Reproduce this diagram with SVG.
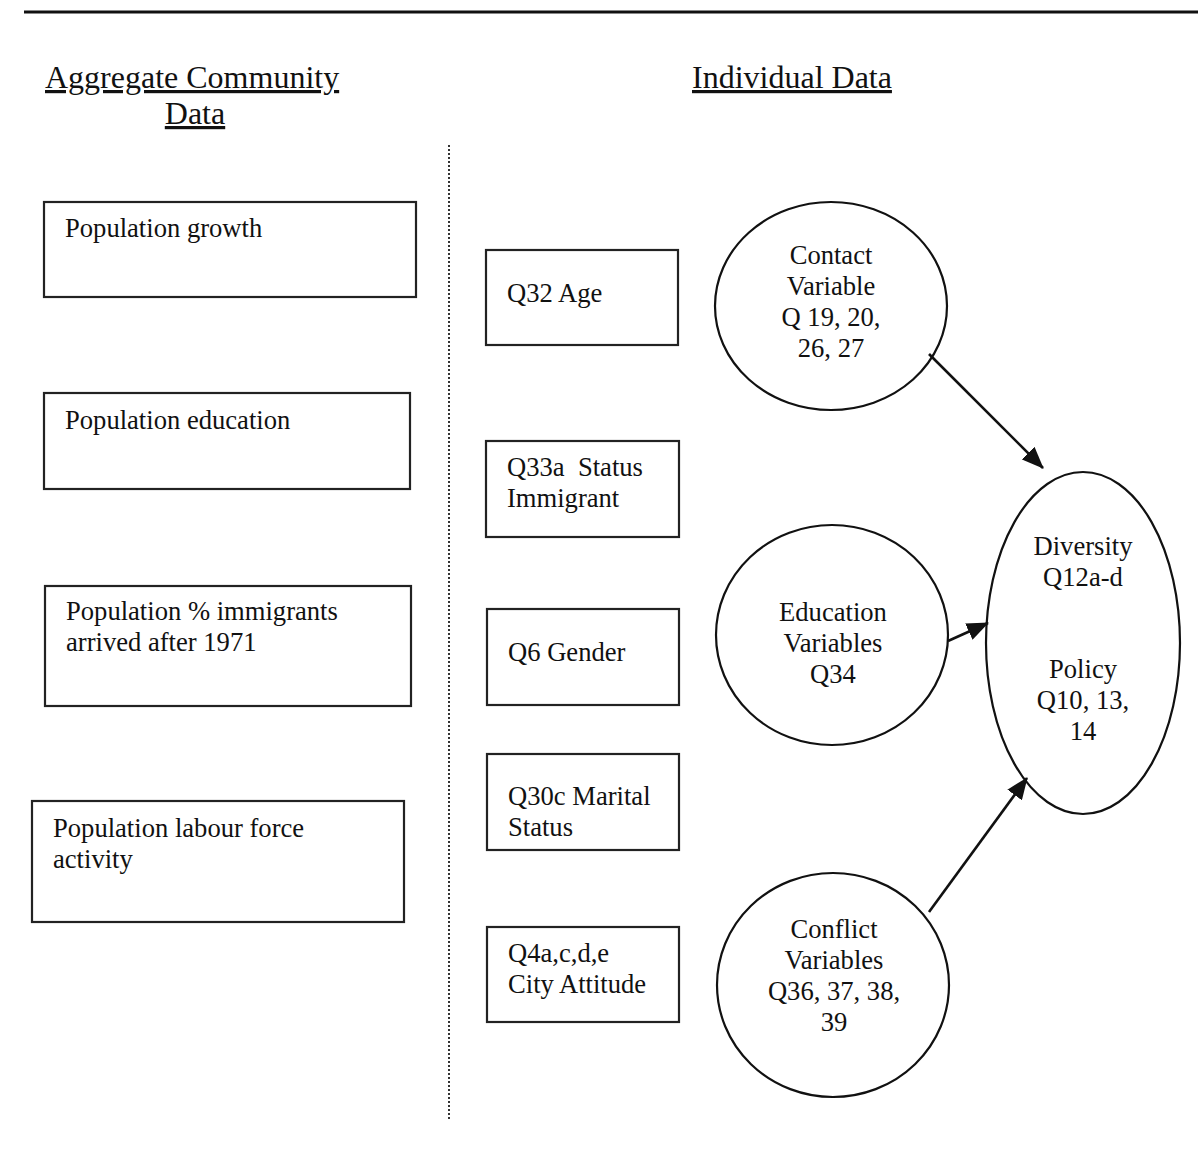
<svg xmlns="http://www.w3.org/2000/svg" width="1198" height="1153" viewBox="0 0 1198 1153">
<style>
text{font-family:"Liberation Serif","Times New Roman",serif;fill:#111;}
.h{font-size:32px;text-decoration:underline;}
.t{font-size:26.6px;}
.c{font-size:26.6px;text-anchor:middle;}
.box{fill:none;stroke:#222;stroke-width:2.2;}
.ell{fill:none;stroke:#111;stroke-width:2.2;}
.arr{stroke:#111;stroke-width:2.6;fill:none;marker-end:url(#ah);}
</style>
<defs>
<marker id="ah" markerUnits="userSpaceOnUse" markerWidth="22" markerHeight="18" refX="21" refY="9" orient="auto">
<path d="M0,0 L22,9 L0,18 z" fill="#111"/>
</marker>
</defs>
<rect width="1198" height="1153" fill="#fff"/>
<line x1="24" y1="12" x2="1198" y2="12" stroke="#111" stroke-width="3"/>
<g id="headers">
<text class="h" x="45" y="88">Aggregate Community</text>
<text class="h" x="195" y="124" text-anchor="middle">Data</text>
<text class="h" x="692" y="88">Individual Data</text>
</g>
<line x1="449" y1="145" x2="449" y2="1120" stroke="#333" stroke-width="2" stroke-dasharray="2,2"/>
<g id="agg-growth"><rect class="box" x="44" y="202" width="372" height="95"/><text class="t" x="65" y="237">Population growth</text></g>
<g id="agg-education"><rect class="box" x="44" y="393" width="366" height="96"/><text class="t" x="65" y="429">Population education</text></g>
<g id="agg-immigrants"><rect class="box" x="45" y="586" width="366" height="120"/><text class="t" x="66" y="620">Population % immigrants</text><text class="t" x="66" y="651">arrived after 1971</text></g>
<g id="agg-labour"><rect class="box" x="32" y="801" width="372" height="121"/><text class="t" x="53" y="837">Population labour force</text><text class="t" x="53" y="868">activity</text></g>
<g id="q32"><rect class="box" x="486" y="250" width="192" height="95"/><text class="t" x="507" y="302">Q32 Age</text></g>
<g id="q33a"><rect class="box" x="486" y="441" width="193" height="96"/><text class="t" x="507" y="476" style="white-space:pre">Q33a  Status</text><text class="t" x="507" y="507">Immigrant</text></g>
<g id="q6"><rect class="box" x="487" y="609" width="192" height="96"/><text class="t" x="508" y="661">Q6 Gender</text></g>
<g id="q30c"><rect class="box" x="487" y="754" width="192" height="96"/><text class="t" x="508" y="805">Q30c Marital</text><text class="t" x="508" y="836">Status</text></g>
<g id="q4"><rect class="box" x="487" y="927" width="192" height="95"/><text class="t" x="508" y="962">Q4a,c,d,e</text><text class="t" x="508" y="993">City Attitude</text></g>
<g id="contact"><ellipse class="ell" cx="831" cy="306" rx="116" ry="104"/><text class="c" x="831" y="264">Contact</text><text class="c" x="831" y="295">Variable</text><text class="c" x="831" y="326">Q 19, 20,</text><text class="c" x="831" y="357">26, 27</text></g>
<g id="education"><ellipse class="ell" cx="832" cy="635" rx="116" ry="110"/><text class="c" x="833" y="621">Education</text><text class="c" x="833" y="652">Variables</text><text class="c" x="833" y="683">Q34</text></g>
<g id="conflict"><ellipse class="ell" cx="833" cy="985" rx="116" ry="112"/><text class="c" x="834" y="938">Conflict</text><text class="c" x="834" y="969">Variables</text><text class="c" x="834" y="1000">Q36, 37, 38,</text><text class="c" x="834" y="1031">39</text></g>
<g id="outcome"><ellipse class="ell" cx="1083" cy="643" rx="97" ry="171"/><text class="c" x="1083" y="555">Diversity</text><text class="c" x="1083" y="586">Q12a-d</text><text class="c" x="1083" y="678">Policy</text><text class="c" x="1083" y="709">Q10, 13,</text><text class="c" x="1083" y="740">14</text></g>
<g id="connectors">
<line class="arr" x1="929" y1="354" x2="1043" y2="468"/>
<line class="arr" x1="948" y1="641" x2="988" y2="623"/>
<line class="arr" x1="929" y1="912" x2="1027" y2="778"/>
</g>
</svg>
